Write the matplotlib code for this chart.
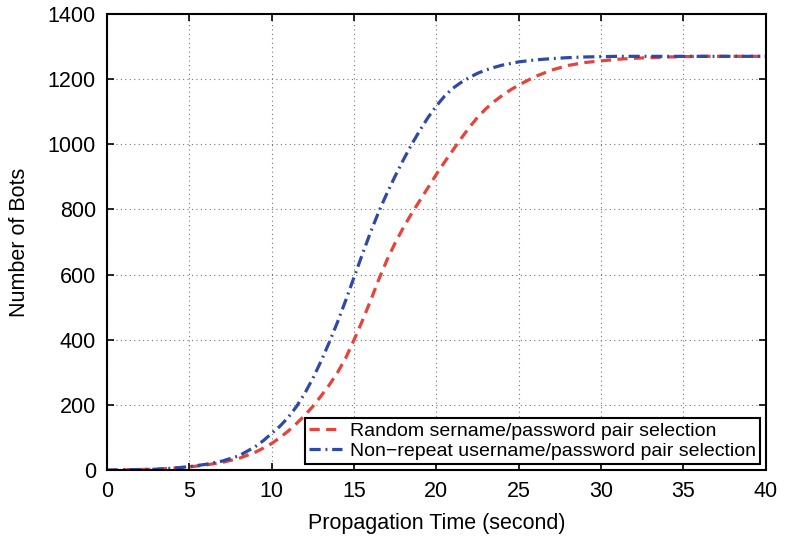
import matplotlib
matplotlib.use("Agg")
import matplotlib.pyplot as plt
import numpy as np

plt.rcParams['font.family'] = ['Liberation Sans', 'DejaVu Sans']

x = [0, 1, 2, 3, 4, 5, 6, 7, 8, 9, 9.5, 10, 10.5, 11, 11.5, 12, 12.5, 13, 13.5, 14, 14.5,
     15, 15.5, 16, 16.5, 17, 17.5, 18, 18.5, 19, 19.5, 20, 20.5, 21, 21.5, 22, 22.5, 23,
     23.5, 24, 24.5, 25, 26, 27, 28, 29, 30, 31, 32, 33, 34, 35, 36, 37, 38, 39, 40]
random_sel = [0, 1, 2, 3, 6, 10, 16, 24, 36, 55, 68, 82, 100, 120, 143, 168, 196, 228, 262,
              300, 345, 400, 458, 520, 585, 645, 698, 745, 788, 828, 868, 908, 946, 982,
              1018, 1052, 1083, 1109, 1131, 1150, 1167, 1182, 1208, 1228, 1242, 1251, 1256,
              1261, 1264, 1266, 1268, 1269, 1270, 1270, 1270, 1270, 1270]
nonrepeat_sel = [0, 1, 2, 3, 6, 11, 18, 28, 44, 72, 91, 113, 135, 162, 195, 235, 282, 335,
                 393, 455, 522, 592, 662, 730, 793, 850, 903, 953, 1000, 1043, 1083, 1118,
                 1148, 1172, 1190, 1205, 1218, 1228, 1236, 1243, 1248, 1253, 1259, 1263, 1266,
                 1268, 1269, 1270, 1270, 1270, 1270, 1270, 1270, 1270, 1270, 1270, 1270]

labels = ['Random sername/password pair selection',
          'Non\u2212repeat username/password pair selection']

fig = plt.figure(figsize=(7.87, 5.48), dpi=100)
ax = fig.add_axes([0.136, 0.142, 0.837, 0.8325])

ax.plot(x, random_sel, linestyle=(0, (3.2, 2)), color='#E8433A', linewidth=2.3, label=labels[0])
ax.plot(x, nonrepeat_sel, linestyle=(0, (3.5, 1.5, 0.6, 1.5)), color='#2E4AA6', linewidth=2.3, label=labels[1])

ax.set_xlim(0, 40)
ax.set_ylim(0, 1400)
ax.set_xticks(np.arange(0, 41, 5))
ax.set_yticks(np.arange(0, 1401, 200))
ax.grid(True, linestyle=(0, (1, 3)), color='#777777', linewidth=0.8)
ax.tick_params(direction='in', top=True, right=True, labelsize=15.5, length=5, width=1.2)
ax.tick_params(axis='x', pad=8)
ax.tick_params(axis='y', pad=8)
for s in ax.spines.values():
    s.set_linewidth(1.5)

ax.set_xlabel('Propagation Time (second)', fontsize=15.5, labelpad=8)
ax.set_ylabel('Number of Bots', fontsize=15.5, labelpad=13)

leg = ax.legend(loc='lower right', fontsize=14, fancybox=False, framealpha=1,
                edgecolor='black', borderpad=0.22, labelspacing=0.15, handlelength=1.7,
                handletextpad=0.4, borderaxespad=0.3)
leg.get_frame().set_linewidth(1.5)

fig.savefig('out.png', dpi=100)
